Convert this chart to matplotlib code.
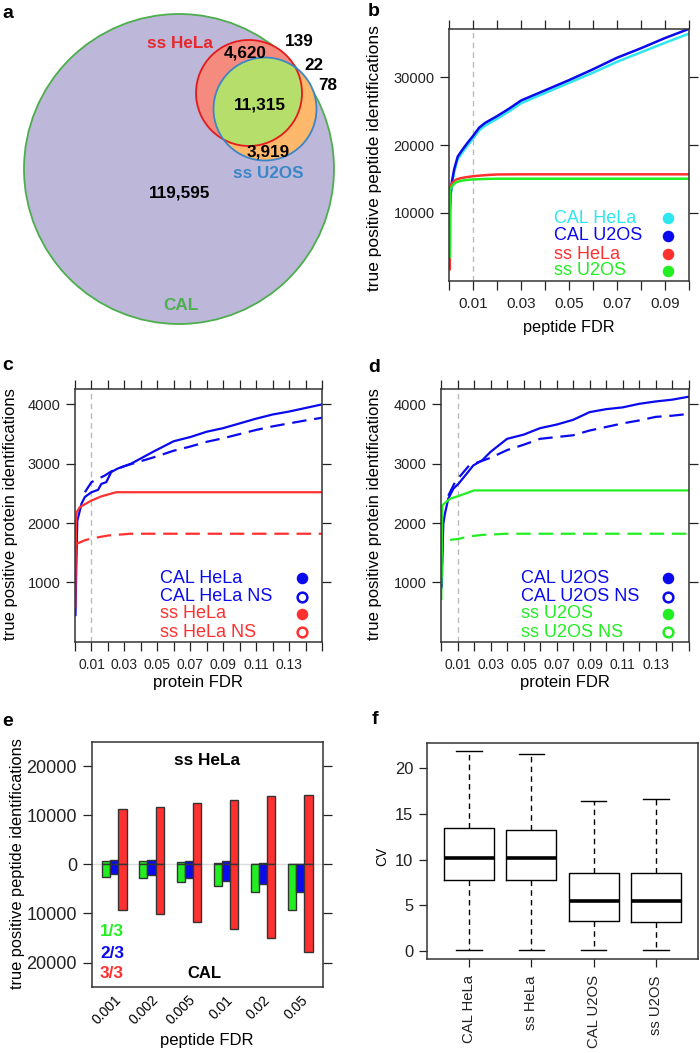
import matplotlib
matplotlib.use('Agg')
import matplotlib.pyplot as plt
from matplotlib.patches import Circle
import numpy as np

plt.rcParams['font.family'] = ['Liberation Sans', 'DejaVu Sans']

W, H = 700, 1053

# ---------------- data ----------------
# a: Venn region counts
venn_texts = ['119,595', '4,620', '11,315', '3,919', '139', '22', '78']
venn_sets = ['CAL', 'ss HeLa', 'ss U2OS']

# b: peptide FDR curves
b_fdr = [0.0002, 0.0005, 0.001, 0.002, 0.0035, 0.005, 0.0075, 0.01, 0.0125, 0.015,
         0.02, 0.025, 0.03, 0.04, 0.05, 0.06, 0.07, 0.08, 0.09, 0.1]
b_cal_hela = [10300, 12200, 14000, 16000, 17900, 18700, 19900, 21000, 22200, 22900,
              23900, 25000, 26200, 27700, 29200, 30700, 32300, 33700, 35100, 36450]
b_cal_u2os = [10500, 12500, 14400, 16400, 18300, 19100, 20300, 21400, 22600, 23300,
              24300, 25400, 26600, 28100, 29600, 31200, 32900, 34300, 35800, 37150]
b_ss_fdr = [0.0002, 0.0004, 0.001, 0.002, 0.003, 0.005, 0.0075, 0.01, 0.015, 0.02,
            0.03, 0.05, 0.1]
b_ss_hela = [1700, 13800, 14300, 14700, 14950, 15150, 15300, 15420, 15580, 15680,
             15700, 15700, 15700]
b_ss_u2os = [3500, 13400, 13900, 14300, 14550, 14750, 14880, 14950, 15020, 15050,
             15050, 15050, 15050]

# c: protein FDR, HeLa
c_cal_fdr = [0.0003, 0.0008, 0.0014, 0.004, 0.006, 0.01, 0.014, 0.016, 0.019, 0.022,
             0.026, 0.034, 0.048, 0.06, 0.07, 0.08, 0.09, 0.1, 0.11, 0.12, 0.13, 0.14, 0.15]
c_cal_hela = [450, 1300, 2040, 2330, 2440, 2520, 2560, 2660, 2690, 2860,
              2920, 3000, 3210, 3380, 3450, 3540, 3600, 3680, 3760, 3830, 3880, 3940, 4000]
c_cal_ns_fdr = [0.006, 0.01, 0.018, 0.022, 0.03, 0.048, 0.06, 0.07, 0.08, 0.09,
                0.1, 0.11, 0.12, 0.13, 0.14, 0.15]
c_cal_hela_ns = [2520, 2690, 2800, 2870, 2960, 3110, 3220, 3290, 3370, 3430,
                 3500, 3570, 3630, 3680, 3730, 3775]
c_ss_fdr = [0.0002, 0.0006, 0.001, 0.003, 0.01, 0.016, 0.025, 0.05, 0.15]
c_ss_hela = [580, 1930, 2185, 2270, 2380, 2450, 2520, 2520, 2520]
c_ss_ns_fdr = [0.0005, 0.001, 0.006, 0.01, 0.02, 0.034, 0.15]
c_ss_hela_ns = [1640, 1650, 1710, 1740, 1790, 1820, 1820]

# d: protein FDR, U2OS
d_cal_fdr = [0.0004, 0.0014, 0.0024, 0.0044, 0.0075, 0.0105, 0.0155, 0.0195, 0.025, 0.03,
             0.04, 0.05, 0.06, 0.07, 0.08, 0.09, 0.1, 0.11, 0.12, 0.13, 0.14, 0.15]
d_cal_u2os = [920, 1990, 2160, 2410, 2580, 2660, 2830, 2970, 3060, 3200,
              3420, 3490, 3600, 3660, 3740, 3870, 3920, 3950, 4010, 4050, 4080, 4130]
d_cal_ns_fdr = [0.0044, 0.0085, 0.017, 0.03, 0.04, 0.05, 0.06, 0.07, 0.08, 0.09,
                0.1, 0.11, 0.12, 0.13, 0.14, 0.15]
d_cal_u2os_ns = [2460, 2690, 2970, 3100, 3230, 3320, 3420, 3450, 3480, 3560,
                 3620, 3680, 3730, 3790, 3810, 3840]
d_ss_fdr = [0.0003, 0.0008, 0.0055, 0.01, 0.02, 0.05, 0.15]
d_ss_u2os = [980, 2300, 2410, 2450, 2550, 2550, 2550]
d_ss_ns_fdr = [0.0002, 0.0005, 0.0065, 0.01, 0.017, 0.025, 0.04, 0.15]
d_ss_u2os_ns = [700, 1680, 1720, 1730, 1775, 1800, 1820, 1820]

# e: peptides found in 1/3, 2/3, 3/3 replicates
e_fdr = ['0.001', '0.002', '0.005', '0.01', '0.02', '0.05']
e_ss_13 = [700, 650, 400, 200, 50, 0]
e_ss_23 = [900, 950, 700, 600, 200, 50]
e_ss_33 = [11200, 11700, 12450, 13100, 13900, 14100]
e_cal_13 = [2500, 2700, 3500, 4400, 5700, 9200]
e_cal_23 = [1900, 2250, 2700, 3300, 4000, 5700]
e_cal_33 = [9300, 10200, 11800, 13200, 14900, 17900]

# f: CV boxplots
f_names = ['CAL HeLa', 'ss HeLa', 'CAL U2OS', 'ss U2OS']
f_whislo = [0.15, 0.15, 0.07, 0.07]
f_q1 = [7.76, 7.8, 3.24, 3.2]
f_med = [10.2, 10.17, 5.43, 5.43]
f_q3 = [13.41, 13.26, 8.49, 8.52]
f_whishi = [21.86, 21.49, 16.4, 16.6]

CYAN, BLUE, RED, GREEN = '#2ee6f0', '#0a0aee', '#ff3030', '#22ee22'

fig = plt.figure(figsize=(W / 100, H / 100), dpi=100)


def add_px(left, top, right, bottom):
    return fig.add_axes([left / W, 1 - bottom / H, (right - left) / W, (bottom - top) / H])


def ftext(x, y, s, **kw):
    kw.setdefault('ha', 'center')
    kw.setdefault('va', 'center')
    fig.text(x / W, 1 - y / H, s, **kw)


def lattice(ax, xmax, ylim, yticks, xsize=10.5):
    ax.set_xlim(0, xmax)
    ax.set_ylim(*ylim)
    n = int(round(xmax / 0.01))
    xt = [i * 0.01 for i in range(n + 1)]
    ax.set_xticks(xt)
    ax.set_xticklabels(['%.2f' % v if i % 2 == 1 and i < n else '' for i, v in enumerate(xt)])
    ax.set_yticks(yticks)
    ax.set_yticklabels([str(v) for v in yticks])
    ax.tick_params(direction='out', length=6.5, width=0.9, top=True, right=True,
                   labeltop=False, labelright=False, colors='#222222', pad=4)
    ax.tick_params(axis='x', labelsize=xsize, pad=5)
    ax.tick_params(axis='y', labelsize=10.5)
    for s in ax.spines.values():
        s.set_linewidth(1.1)
        s.set_color('#333333')
    ax.axvline(0.01, color='#bbbbbb', lw=1, ls=(0, (4, 3)), zorder=0)


def legend(ax, x_txt, x_mk, ys, labels, colors, filled, fs=13):
    for y, lab, c, f in zip(ys, labels, colors, filled):
        ax.text(x_txt, y, lab, color=c, fontsize=fs, transform=ax.transAxes, va='center', ha='left')
        ax.plot([x_mk], [y], 'o', transform=ax.transAxes, ms=6.5 if f else 7,
                mfc=c if f else 'none', mec=c, mew=1.8, clip_on=False)


# ---------------- a: Venn ----------------
ax = fig.add_axes([0, 1 - 340 / H, 350 / W, 340 / H])
ax.set_xlim(0, 350)
ax.set_ylim(340, 0)
ax.axis('off')
ax.add_patch(Circle((179, 169), 155, fc='#bdb7da', ec='#4cae4c', lw=1.3))
red_c = Circle((249, 93), 53, fc='#f58a7e', ec='none')
ax.add_patch(red_c)
ax.add_patch(Circle((265, 109), 51.5, fc='#fdb86b', ec='none'))
inter = Circle((265, 109), 51.5, fc='#b5df6a', ec='none')
ax.add_patch(inter)
inter.set_clip_path(red_c)
ax.add_patch(Circle((249, 93), 53, fill=False, ec='#e41a1c', lw=1.3))
ax.add_patch(Circle((265, 109), 51.5, fill=False, ec='#3b86c6', lw=1.3))
for s, (x, y) in zip(venn_texts, [(180, 193), (245, 53), (260, 105), (268, 152),
                                  (299, 42), (314, 65), (328, 85)]):
    ax.text(x, y, s, fontsize=12.3, fontweight='bold', ha='center', va='center')
for s, (x, y), c in zip(venn_sets, [(181, 305), (180, 44), (268, 173)],
                        ['#4cae4c', '#e8262b', '#3a87c8']):
    ax.text(x, y, s, fontsize=12.3, fontweight='bold', ha='center', va='center', color=c)

# ---------------- b ----------------
ax = add_px(449.3, 29, 688.7, 280.7)
lattice(ax, 0.1, (0, 37150), [10000, 20000, 30000], xsize=11)
ax.plot(b_fdr, b_cal_hela, color=CYAN, lw=1.8)
ax.plot(b_fdr, b_cal_u2os, color=BLUE, lw=1.8)
ax.plot(b_ss_fdr, b_ss_hela, color=RED, lw=1.8)
ax.plot(b_ss_fdr, b_ss_u2os, color=GREEN, lw=1.8)
legend(ax, 0.437, 0.913, [0.249, 0.178, 0.106, 0.039],
       ['CAL HeLa', 'CAL U2OS', 'ss HeLa', 'ss U2OS'], [CYAN, BLUE, RED, GREEN],
       [True] * 4)
ftext(375, 158, 'true positive peptide identifications', rotation=90, fontsize=12.5)
ftext(569, 327, 'peptide FDR', fontsize=11.7)

# ---------------- c ----------------
dash = (0, (6.5, 3.5))
ax = add_px(75, 389, 322, 641.7)
lattice(ax, 0.15, (0, 4260), [1000, 2000, 3000, 4000], xsize=10)
ax.plot(c_cal_fdr, c_cal_hela, color=BLUE, lw=1.6)
ax.plot(c_cal_ns_fdr, c_cal_hela_ns, color=BLUE, lw=1.6, ls=dash)
ax.plot(c_ss_fdr, c_ss_hela, color=RED, lw=1.6)
ax.plot(c_ss_ns_fdr, c_ss_hela_ns, color=RED, lw=1.6, ls=dash)
legend(ax, 0.344, 0.919, [0.252, 0.177, 0.110, 0.038],
       ['CAL HeLa', 'CAL HeLa NS', 'ss HeLa', 'ss HeLa NS'], [BLUE, BLUE, RED, RED],
       [True, False, True, False])
ftext(11, 514, 'true positive protein identifications', rotation=90, fontsize=12)
ftext(198, 683, 'protein FDR', fontsize=12)

# ---------------- d ----------------
ax = add_px(441, 389, 688.7, 641.7)
lattice(ax, 0.15, (0, 4260), [1000, 2000, 3000, 4000], xsize=10)
ax.plot(d_cal_fdr, d_cal_u2os, color=BLUE, lw=1.6)
ax.plot(d_cal_ns_fdr, d_cal_u2os_ns, color=BLUE, lw=1.6, ls=dash)
ax.plot(d_ss_fdr, d_ss_u2os, color=GREEN, lw=1.6)
ax.plot(d_ss_ns_fdr, d_ss_u2os_ns, color=GREEN, lw=1.6, ls=dash)
legend(ax, 0.323, 0.916, [0.252, 0.177, 0.110, 0.038],
       ['CAL U2OS', 'CAL U2OS NS', 'ss U2OS', 'ss U2OS NS'], [BLUE, BLUE, GREEN, GREEN],
       [True, False, True, False])
ftext(375, 514, 'true positive protein identifications', rotation=90, fontsize=12)
ftext(565, 683, 'protein FDR', fontsize=12)

# ---------------- e ----------------
ax = add_px(91.7, 741.7, 322.7, 986.7)
pos = np.arange(1, len(e_fdr) + 1)
w = 0.22
ax.axhline(0, color='#dddddd', lw=1, zorder=0)
bar_kw = dict(edgecolor='#333333', linewidth=1)
for off, up, down, c in [(-w, e_ss_13, e_cal_13, GREEN), (0, e_ss_23, e_cal_23, BLUE),
                         (w, e_ss_33, e_cal_33, RED)]:
    ax.bar(pos + off, up, w, color=c, **bar_kw)
    ax.bar(pos + off, [-v for v in down], w, color=c, **bar_kw)
ax.set_xlim(0.39, 6.6)
ax.set_ylim(-24900, 24950)
yt = [-20000, -10000, 0, 10000, 20000]
ax.set_yticks(yt)
ax.set_yticklabels([str(abs(v)) for v in yt])
ax.set_xticks(pos)
ax.set_xticklabels(e_fdr, rotation=45, ha='right', va='top', rotation_mode='anchor')
ax.tick_params(axis='y', direction='out', length=6.5, width=0.9, right=True,
               labelsize=13, colors='#222222', pad=4)
ax.tick_params(axis='x', length=0, labelsize=10, pad=4.5)
for s in ax.spines.values():
    s.set_linewidth(1.1)
    s.set_color('#333333')
ax.text(0.5, 0.925, 'ss HeLa', transform=ax.transAxes, ha='center', va='center',
        fontsize=12.4, fontweight='bold')
ax.text(0.49, 0.055, 'CAL', transform=ax.transAxes, ha='center', va='center',
        fontsize=12, fontweight='bold')
for lab, c, y in zip(['1/3', '2/3', '3/3'], [GREEN, BLUE, RED], [932, 953, 973]):
    ftext(100, y, lab, ha='left', color=c, fontsize=12.4, fontweight='bold')
ftext(18, 864, 'true positive peptide identifications', rotation=90, fontsize=11.8)
ftext(207, 1041, 'peptide FDR', fontsize=12)

# ---------------- f ----------------
ax = add_px(427.3, 742.7, 697.7, 958.7)
stats = [dict(label=n, whislo=a, q1=b, med=m, q3=c, whishi=d)
         for n, a, b, m, c, d in zip(f_names, f_whislo, f_q1, f_med, f_q3, f_whishi)]
ax.bxp(stats, showfliers=False, widths=0.8, capwidths=0.41,
       boxprops=dict(color='black', lw=1),
       medianprops=dict(color='black', lw=2.6, solid_capstyle='butt'),
       whiskerprops=dict(color='black', lw=1, ls=(0, (4, 3))),
       capprops=dict(color='black', lw=1))
ax.set_xlim(0.333, 4.667)
ax.set_ylim(-0.84, 22.77)
ax.set_yticks([0, 5, 10, 15, 20])
ax.set_xticklabels(f_names, rotation=90, ha='center', va='top')
ax.tick_params(direction='out', length=6, width=0.9, colors='#222222')
ax.tick_params(axis='y', labelsize=11.9, pad=4)
ax.tick_params(axis='x', labelsize=10.7, pad=6)
for s in ax.spines.values():
    s.set_linewidth(1.1)
    s.set_color('#333333')
ftext(382, 856, 'CV', rotation=90, fontsize=10)

# panel letters
for s, (x, y) in zip('abcdef', [(8, 13), (374, 11), (8, 366), (374, 367), (8, 721), (375, 720)]):
    ftext(x, y, s, fontsize=14, fontweight='bold')

fig.savefig('out.png', dpi=100)
